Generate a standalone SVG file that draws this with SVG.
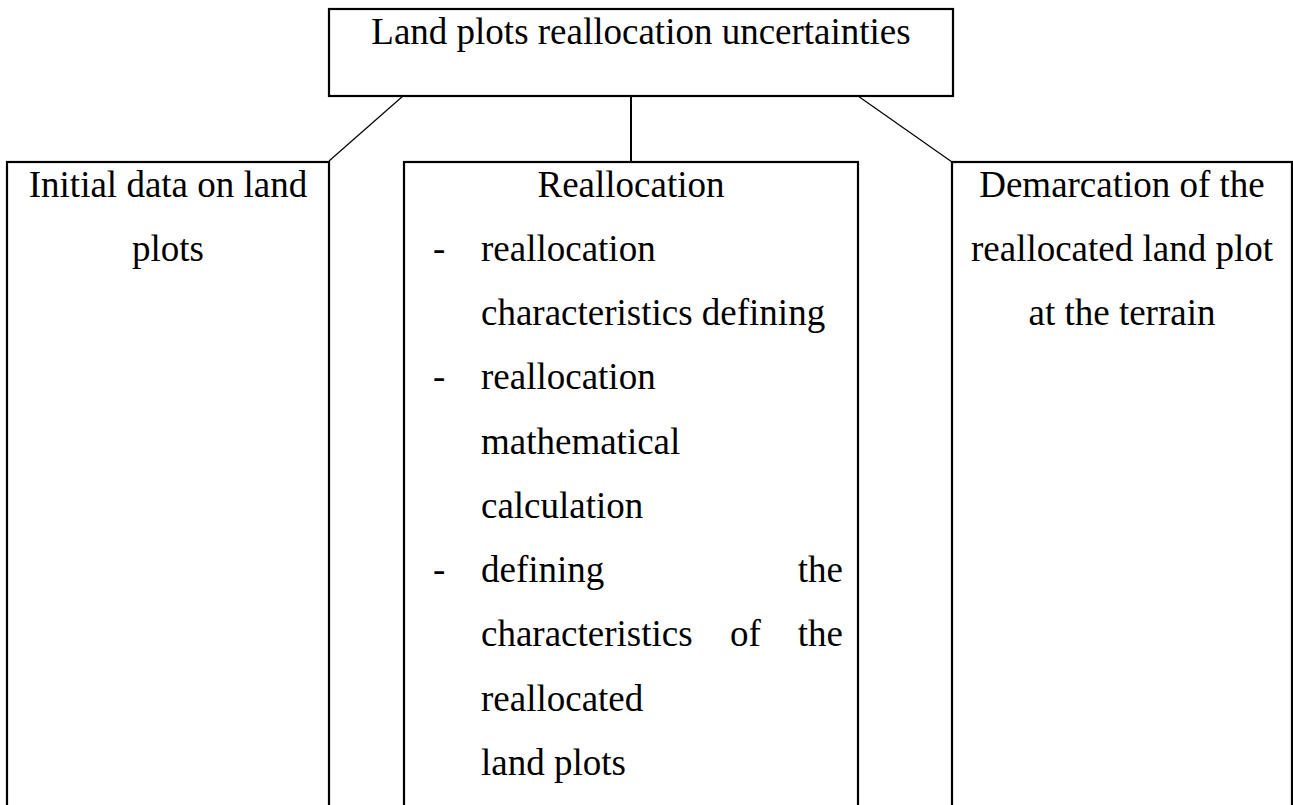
<svg xmlns="http://www.w3.org/2000/svg" width="1293" height="805" viewBox="0 0 1293 805">
<style>
.box{fill:#fff;stroke:#000;stroke-width:2.2}
.t{font-family:"Liberation Serif","Times New Roman",serif;font-size:37px;fill:#000}
.c{text-anchor:middle}
.e{text-anchor:end}
.ln{stroke:#000;fill:none}
</style>
<rect width="1293" height="805" fill="#fff"/>
<g id="connectors">
<line class="ln" x1="403" y1="96" x2="329" y2="161" stroke-width="1.2"/>
<line class="ln" x1="631" y1="96" x2="631" y2="162" stroke-width="2"/>
<line class="ln" x1="858" y1="96" x2="952" y2="162" stroke-width="1.2"/>
</g>
<g id="root">
<rect class="box" x="329" y="9" width="624" height="87"/>
<text class="t c" x="641" y="44">Land plots reallocation uncertainties</text>
</g>
<g id="initial-data">
<rect class="box" x="7" y="162" width="322" height="660"/>
<text class="t c" x="168" y="197">Initial data on land</text>
<text class="t c" x="168" y="261">plots</text>
</g>
<g id="reallocation">
<rect class="box" x="404" y="162" width="454" height="660"/>
<text class="t c" x="631" y="197">Reallocation</text>
<text class="t" x="433" y="261">-</text>
<text class="t" x="481" y="261">reallocation</text>
<text class="t" x="481" y="325">characteristics defining</text>
<text class="t" x="433" y="389">-</text>
<text class="t" x="481" y="389">reallocation</text>
<text class="t" x="481" y="454">mathematical</text>
<text class="t" x="481" y="518">calculation</text>
<text class="t" x="433" y="582">-</text>
<text class="t" x="481" y="582">defining</text>
<text class="t e" x="843" y="582">the</text>
<text class="t" x="481" y="646">characteristics</text>
<text class="t" x="730" y="646">of</text>
<text class="t e" x="843" y="646">the</text>
<text class="t" x="481" y="711">reallocated</text>
<text class="t" x="481" y="775">land plots</text>
</g>
<g id="demarcation">
<rect class="box" x="952" y="162" width="340" height="660"/>
<text class="t c" x="1122" y="197">Demarcation of the</text>
<text class="t c" x="1122" y="261">reallocated land plot</text>
<text class="t c" x="1122" y="325">at the terrain</text>
</g>
</svg>
